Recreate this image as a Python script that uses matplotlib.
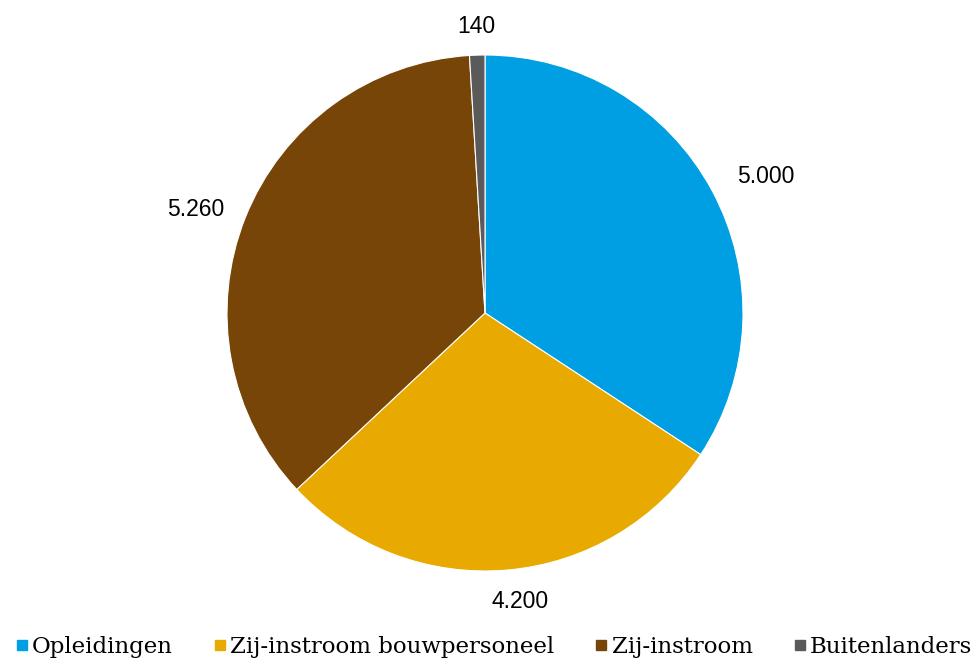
import numpy as np
import matplotlib
matplotlib.use("Agg")
import matplotlib.pyplot as plt
from matplotlib.lines import Line2D

categories = ["Opleidingen", "Zij-instroom bouwpersoneel", "Zij-instroom", "Buitenlanders"]
values = [5000, 4200, 5260, 140]
value_labels = ["5.000", "4.200", "5.260", "140"]
colors = ["#009FE3", "#E8A900", "#774508", "#5A5A5A"]
label_dist = [1.21, 1.125, 1.19, 1.11]
label_shift_deg = [-2.5, 2.0, 2.0, 0.0]

W, H = 976, 664
fig = plt.figure(figsize=(W / 100, H / 100), dpi=100)
cx, cy, r = 485, 313, 258
ax = fig.add_axes([(cx - r) / W, (H - cy - r) / H, 2 * r / W, 2 * r / H])
wedges, _ = ax.pie(values, colors=colors, startangle=90, counterclock=False,
                   radius=1, wedgeprops=dict(edgecolor="white", linewidth=0.8))
ax.set_xlim(-1, 1)
ax.set_ylim(-1, 1)
ax.set_aspect("equal")
ax.axis("off")

for w, lab, d, s in zip(wedges, value_labels, label_dist, label_shift_deg):
    ang = np.deg2rad((w.theta1 + w.theta2) / 2 + s)
    ax.text(d * np.cos(ang), d * np.sin(ang), lab, ha="center", va="center",
            fontsize=16.5, family="Liberation Sans", color="#000000", clip_on=False)

handles = [Line2D([], [], marker="s", linestyle="none", markersize=7.5,
                  markerfacecolor=c, markeredgecolor=c) for c in colors]
fig.legend(handles, categories, loc="center", bbox_to_anchor=(494 / W, 1 - 647 / H),
           ncol=4, frameon=False, handlelength=0.5, handletextpad=0.2,
           columnspacing=1.8, prop=dict(family="DejaVu Serif", size=16.5),
           borderaxespad=0, borderpad=0)

fig.savefig("out.png", dpi=100)
